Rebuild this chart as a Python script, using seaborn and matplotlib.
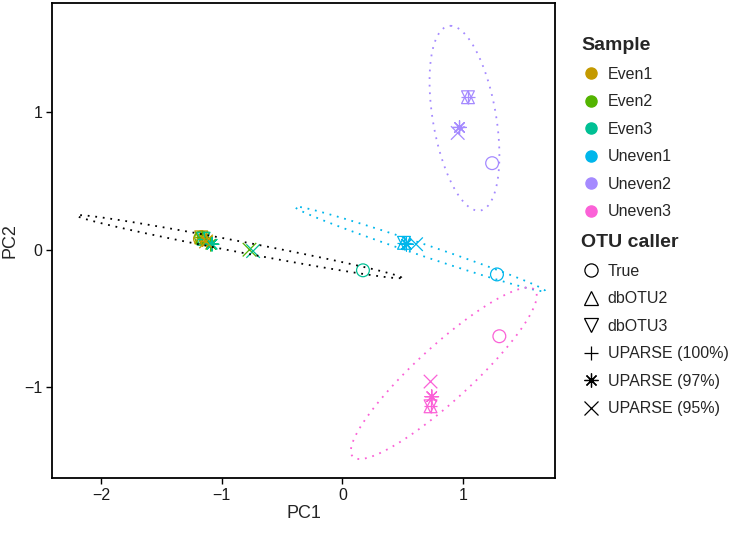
import numpy as np
import pandas as pd
import seaborn as sns
import matplotlib.pyplot as plt
from matplotlib.lines import Line2D

sns.set_style("white")
plt.rcParams['font.family'] = ['Liberation Sans', 'DejaVu Sans']

# data
samples = ['Even1', 'Even2', 'Even3', 'Uneven1', 'Uneven2', 'Uneven3']
callers = ['True', 'dbOTU2', 'dbOTU3', 'UPARSE (100%)', 'UPARSE (97%)', 'UPARSE (95%)']
sample_colors = ['#C49A00', '#53B400', '#00C094', '#00B6EB', '#A58AFF', '#FB61D7']

# one row per sample, columns in the order of callers
pc1 = [
    [-1.18, -1.17, -1.17, -1.17, -1.12, -1.13],
    [-1.17, -1.16, -1.16, -1.16, -1.09, -0.77],
    [0.17, -1.15, -1.15, -1.15, -1.08, -0.74],
    [1.28, 0.51, 0.51, 0.51, 0.53, 0.61],
    [1.24, 1.04, 1.04, 1.04, 0.97, 0.955],
    [1.30, 0.73, 0.73, 0.73, 0.74, 0.73],
]
pc2 = [
    [0.08, 0.09, 0.09, 0.09, 0.06, 0.06],
    [0.09, 0.09, 0.08, 0.09, 0.04, 0.0],
    [-0.15, 0.08, 0.08, 0.08, 0.04, -0.01],
    [-0.18, 0.05, 0.05, 0.05, 0.04, 0.04],
    [0.63, 1.11, 1.11, 1.11, 0.89, 0.85],
    [-0.63, -1.14, -1.14, -1.14, -1.07, -0.96],
]

# confidence ellipses: centre, long semi-diameter (a) and conjugate one (b), in PC units
ellipse_colors = ['black', '#00B6EB', '#A58AFF', '#FB61D7']
ell_cx = [-0.855, 0.645, 1.011, 0.84]
ell_cy = [0.022, 0.005, 0.957, -0.90]
ell_ax = [1.345, 1.035, -0.116, 0.77]
ell_ay = [-0.226, -0.305, 0.673, 0.565]
ell_bx = [0.0, 0.0, 0.265, 0.0]
ell_by = [0.04, 0.045, 0.0, 0.265]

rows = []
for i, s in enumerate(samples):
    for j, c in enumerate(callers):
        rows.append({'Sample': s, 'OTU caller': c, 'PC1': pc1[i][j], 'PC2': pc2[i][j]})
df = pd.DataFrame(rows)
df['Sample'] = pd.Categorical(df['Sample'], samples)

palette = dict(zip(samples, sample_colors))
markers = {'True': 'o', 'dbOTU2': '^', 'dbOTU3': 'v',
           'UPARSE (100%)': '+', 'UPARSE (97%)': (8, 2, 0), 'UPARSE (95%)': 'x'}
open_shapes = ['True', 'dbOTU2', 'dbOTU3']

fig = plt.figure(figsize=(7.48, 5.53), dpi=100)
ax = fig.add_axes([52 / 748, 1 - 478 / 553, 503 / 748, 475 / 553])

for c in callers:
    sub = df[df['OTU caller'] == c]
    before = len(ax.collections)
    if c in open_shapes:
        sns.scatterplot(data=sub, x='PC1', y='PC2', hue='Sample', palette=palette,
                        marker=markers[c], s=85, linewidth=0.9, legend=False, ax=ax)
        coll = ax.collections[before]
        coll.set_edgecolors(coll.get_facecolors())
        coll.set_facecolors('none')
    else:
        sns.scatterplot(data=sub, x='PC1', y='PC2', hue='Sample', palette=palette,
                        marker=markers[c], s=95, linewidth=0.9, legend=False, ax=ax)

t = np.linspace(0, 2 * np.pi, 120)
for k, col in enumerate(ellipse_colors):
    ex = ell_cx[k] + np.cos(t) * ell_ax[k] + np.sin(t) * ell_bx[k]
    ey = ell_cy[k] + np.cos(t) * ell_ay[k] + np.sin(t) * ell_by[k]
    sns.lineplot(x=ex, y=ey, sort=False, color=col, linewidth=1.3,
                 linestyle=(0, (1, 3.2)), ax=ax, estimator=None)

ax.set_xlim(-2.406, 1.761)
ax.set_ylim(-1.662, 1.796)
ax.set_xticks([-2, -1, 0, 1])
ax.set_yticks([-1, 0, 1])
ax.set_xticklabels(['\u22122', '\u22121', '0', '1'])
ax.set_yticklabels(['\u22121', '0', '1'])
ax.tick_params(direction='out', length=4, width=1, color='black', labelsize=11.5,
               labelcolor='#1a1a1a', bottom=True, left=True, pad=3)
for sp in ax.spines.values():
    sp.set_color('black')
    sp.set_linewidth(1.3)
ax.set_xlabel('PC1', fontsize=13, labelpad=2)
ax.set_ylabel('PC2', fontsize=13, labelpad=4)

legend_kw = dict(loc='upper left', frameon=False, fontsize=11.5, labelspacing=0.78,
                 handletextpad=0.45, handlelength=1.2,
                 title_fontproperties={'weight': 'bold', 'size': 14}, alignment='left')

sample_handles = [Line2D([], [], marker='o', linestyle='none', markersize=8,
                         markerfacecolor=col, markeredgecolor=col) for col in sample_colors]
fig.legend(sample_handles, samples, title='Sample',
           bbox_to_anchor=(567 / 748, 1 - 23 / 553), **legend_kw)

caller_handles = []
for c in callers:
    if c in open_shapes:
        caller_handles.append(Line2D([], [], marker=markers[c], linestyle='none', markersize=9.5,
                                     markerfacecolor='none', markeredgecolor='black',
                                     markeredgewidth=0.9))
    else:
        caller_handles.append(Line2D([], [], marker=markers[c], linestyle='none', markersize=10,
                                     color='black', markeredgewidth=0.9))
fig.legend(caller_handles, callers, title='OTU caller',
           bbox_to_anchor=(567 / 748, 1 - 220 / 553), **legend_kw)

fig.savefig('out.png', dpi=100)
